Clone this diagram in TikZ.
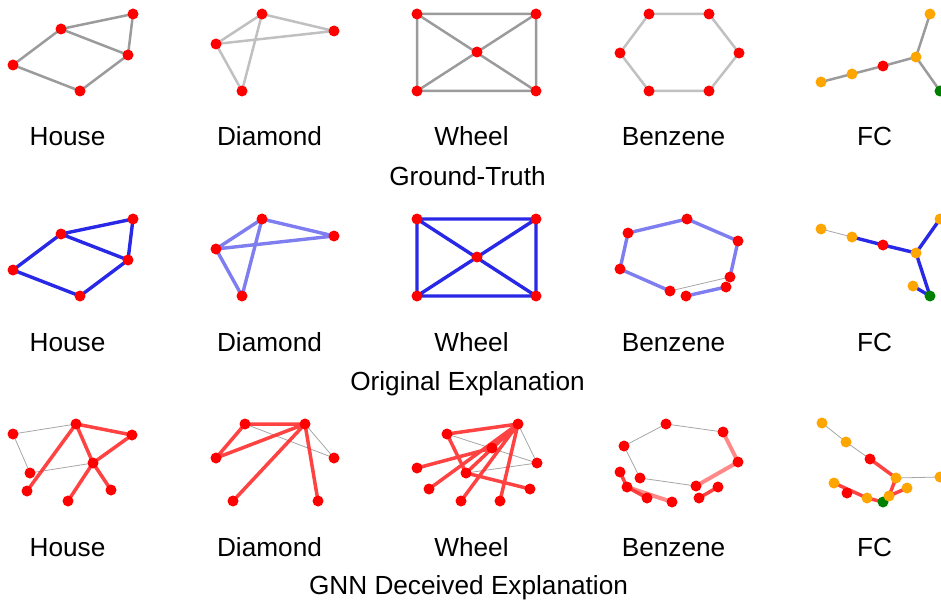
\documentclass[tikz,border=0pt]{standalone}
\usepackage{fontspec}
\setmainfont{Liberation Sans}
\usetikzlibrary{backgrounds}
\definecolor{gA}{RGB}{155,155,155}
\definecolor{gB}{RGB}{192,192,192}
\definecolor{bE}{RGB}{40,40,230}
\definecolor{rE}{RGB}{255,40,40}
\definecolor{oN}{RGB}{255,165,0}
\definecolor{gN}{RGB}{0,128,0}
\tikzset{
  rn/.style={circle,fill=red,inner sep=0pt,minimum size=11pt},
  on/.style={circle,fill=oN,inner sep=0pt,minimum size=11pt},
  gn/.style={circle,fill=gN,inner sep=0pt,minimum size=11pt},
  ge/.style={draw=gA,line width=2.5pt},
  gl/.style={draw=gB,line width=2.5pt},
  be/.style={draw=bE,line width=3.4pt},
  bl/.style={draw=bE,line width=3.4pt,draw opacity=0.6},
  re/.style={draw=rE,line width=3.5pt,draw opacity=0.88},
  rl/.style={draw=rE,line width=4pt,draw opacity=0.55},
  te/.style={draw=gray,line width=0.8pt,draw opacity=0.7},
  lab/.style={anchor=base,inner sep=0pt,font=\fontsize{26.2}{30}\selectfont}
}
\begin{document}
\begin{tikzpicture}[x=1pt,y=-1pt]
\useasboundingbox (0,0) rectangle (941,599);
% ================= Row 1: Ground truth =================
% House
\node[rn] (a1) at (133,14) {};
\node[rn] (a2) at (61,29) {};
\node[rn] (a3) at (128,55) {};
\node[rn] (a4) at (13,65) {};
\node[rn] (a5) at (80,91) {};
% Diamond
\node[rn] (b1) at (262,14) {};
\node[rn] (b2) at (334,31) {};
\node[rn] (b3) at (216,44) {};
\node[rn] (b4) at (242,91) {};
% Wheel
\node[rn] (c1) at (417,14) {};
\node[rn] (c2) at (536,14) {};
\node[rn] (c3) at (477,52) {};
\node[rn] (c4) at (417,91) {};
\node[rn] (c5) at (536,91) {};
% Benzene
\node[rn] (d1) at (649,14) {};
\node[rn] (d2) at (709,14) {};
\node[rn] (d3) at (620,53) {};
\node[rn] (d4) at (739,53) {};
\node[rn] (d5) at (649,91) {};
\node[rn] (d6) at (709,91) {};
% FC
\node[on] (e1) at (821,82) {};
\node[on] (e2) at (852,74) {};
\node[rn] (e3) at (883,66) {};
\node[on] (e4) at (916,57) {};
\node[on] (e5) at (930,14) {};
\node[gn] (e6) at (940,91) {};
\begin{pgfonlayer}{background}
\draw[ge] (a2.center)--(a1.center) (a1.center)--(a3.center) (a2.center)--(a3.center)
  (a2.center)--(a4.center) (a4.center)--(a5.center) (a5.center)--(a3.center);
\draw[gl] (b1.center)--(b2.center) (b1.center)--(b3.center) (b1.center)--(b4.center)
  (b3.center)--(b2.center) (b3.center)--(b4.center);
\draw[ge] (c1.center)--(c2.center) (c2.center)--(c5.center) (c5.center)--(c4.center)
  (c4.center)--(c1.center) (c1.center)--(c5.center) (c2.center)--(c4.center);
\draw[gl] (d1.center)--(d2.center) (d2.center)--(d4.center) (d4.center)--(d6.center)
  (d6.center)--(d5.center) (d5.center)--(d3.center) (d3.center)--(d1.center);
\draw[ge] (e1.center)--(e2.center) (e2.center)--(e3.center) (e3.center)--(e4.center)
  (e4.center)--(e5.center) (e4.center)--(e6.center);
\end{pgfonlayer}
\node[lab] (l1a) at (67.5,145) {House};
\node[lab] (l1b) at (269.5,145) {Diamond};
\node[lab] (l1c) at (471.5,145) {Wheel};
\node[lab] (l1d) at (673.5,145) {Benzene};
\node[lab] (l1e) at (874.5,145) {FC};
\node[lab] (t1) at (467.5,185) {Ground-Truth};
% ================= Row 2: Original explanation =================
\node[rn] (f1) at (133,219) {};
\node[rn] (f2) at (61,234) {};
\node[rn] (f3) at (128,260) {};
\node[rn] (f4) at (13,270) {};
\node[rn] (f5) at (80,296) {};
\node[rn] (g1) at (262,219) {};
\node[rn] (g2) at (334,236) {};
\node[rn] (g3) at (216,249) {};
\node[rn] (g4) at (242,296) {};
\node[rn] (h1) at (417,219) {};
\node[rn] (h2) at (536,219) {};
\node[rn] (h3) at (477,257) {};
\node[rn] (h4) at (417,296) {};
\node[rn] (h5) at (536,296) {};
\node[rn] (i1) at (687,219) {};
\node[rn] (i2) at (628,233) {};
\node[rn] (i3) at (738,241) {};
\node[rn] (i4) at (620,269) {};
\node[rn] (i5) at (730,277) {};
\node[rn] (i6) at (726,287) {};
\node[rn] (i7) at (670,291) {};
\node[rn] (i8) at (686,296) {};
\node[on] (j1) at (821,229) {};
\node[on] (j2) at (852,237) {};
\node[rn] (j3) at (883,245) {};
\node[on] (j4) at (916,253) {};
\node[on] (j5) at (940,219) {};
\node[on] (j6) at (913,286) {};
\node[gn] (j7) at (930,296) {};
\begin{pgfonlayer}{background}
\draw[be] (f2.center)--(f1.center) (f1.center)--(f3.center) (f2.center)--(f3.center)
  (f2.center)--(f4.center) (f4.center)--(f5.center) (f5.center)--(f3.center);
\draw[bl] (g1.center)--(g2.center) (g1.center)--(g3.center) (g1.center)--(g4.center)
  (g3.center)--(g2.center) (g3.center)--(g4.center);
\draw[be] (h1.center)--(h2.center) (h2.center)--(h5.center) (h5.center)--(h4.center)
  (h4.center)--(h1.center) (h1.center)--(h5.center) (h2.center)--(h4.center);
\draw[bl] (i2.center)--(i1.center) (i1.center)--(i3.center) (i3.center)--(i5.center)
  (i2.center)--(i4.center) (i4.center)--(i7.center) (i8.center)--(i6.center);
\draw[te] (i7.center)--(i5.center);
\draw[te] (j1.center)--(j2.center);
\draw[be] (j2.center)--(j3.center) (j3.center)--(j4.center) (j4.center)--(j5.center)
  (j4.center)--(j7.center) (j6.center)--(j7.center);
\end{pgfonlayer}
\node[lab] (l2a) at (67.5,351) {House};
\node[lab] (l2b) at (269.5,351) {Diamond};
\node[lab] (l2c) at (471.5,351) {Wheel};
\node[lab] (l2d) at (673.5,351) {Benzene};
\node[lab] (l2e) at (874.5,351) {FC};
\node[lab] (t2) at (467.5,390) {Original Explanation};
% ================= Row 3: GNN deceived explanation =================
% House
\node[rn] (k1) at (76,424) {};
\node[rn] (k2) at (13,434) {};
\node[rn] (k3) at (132,435) {};
\node[rn] (k4) at (93,463) {};
\node[rn] (k5) at (30,473) {};
\node[rn] (k6) at (27,491) {};
\node[rn] (k7) at (111,490) {};
\node[rn] (k8) at (68,501) {};
% Diamond
\node[rn] (m1) at (245,424) {};
\node[rn] (m2) at (305,424) {};
\node[rn] (m3) at (216,458) {};
\node[rn] (m4) at (334,458) {};
\node[rn] (m5) at (233,501) {};
\node[rn] (m6) at (318,501) {};
% Wheel
\node[rn] (n0) at (518,424) {};
\node[rn] (n1) at (447,434) {};
\node[rn] (n2) at (492,448) {};
\node[rn] (n3) at (537,463) {};
\node[rn] (n4) at (417,468) {};
\node[rn] (n5) at (466,473) {};
\node[rn] (n6) at (429,489) {};
\node[rn] (n7) at (530,489) {};
\node[rn] (n8) at (461,501) {};
\node[rn] (n9) at (500,501) {};
% Benzene
\node[rn] (p1) at (666,424) {};
\node[rn] (p2) at (723,432) {};
\node[rn] (p3) at (624,446) {};
\node[rn] (p4) at (738,462) {};
\node[rn] (p5) at (620,472) {};
\node[rn] (p6) at (640,478) {};
\node[rn] (p7) at (696,486) {};
\node[rn] (p8) at (718,487) {};
\node[rn] (p9) at (627,487) {};
\node[rn] (p10) at (647,498) {};
\node[rn] (p11) at (672,502) {};
\node[rn] (p12) at (699,498) {};
% FC
\node[on] (q1) at (822,423) {};
\node[on] (q2) at (846,442) {};
\node[rn] (q3) at (870,459) {};
\node[on] (q4) at (896,478) {};
\node[on] (q5) at (940,477) {};
\node[on] (q6) at (834,483) {};
\node[rn] (q7) at (847,493) {};
\node[on] (q8) at (867,498) {};
\node[gn] (q9) at (883,502) {};
\node[on] (q10) at (889,496) {};
\node[on] (q11) at (907,488) {};
\begin{pgfonlayer}{background}
\draw[te] (k2.center)--(k1.center) (k2.center)--(k5.center) (k5.center)--(k4.center);
\draw[re] (k1.center)--(k3.center) (k1.center)--(k4.center) (k3.center)--(k4.center)
  (k1.center)--(k6.center) (k4.center)--(k8.center) (k4.center)--(k7.center);
\draw[te] (m1.center)--(m4.center) (m2.center)--(m4.center);
\draw[re] (m1.center)--(m2.center) (m1.center)--(m3.center) (m3.center)--(m2.center)
  (m2.center)--(m5.center) (m2.center)--(m6.center);
\draw[te] (n1.center)--(n3.center) (n0.center)--(n3.center) (n5.center)--(n3.center);
\draw[re] (n1.center)--(n0.center) (n1.center)--(n5.center) (n5.center)--(n7.center)
  (n4.center)--(n2.center) (n0.center)--(n2.center) (n0.center)--(n5.center)
  (n0.center)--(n6.center) (n0.center)--(n8.center) (n0.center)--(n9.center);
\draw[te] (p3.center)--(p1.center) (p1.center)--(p2.center) (p3.center)--(p6.center)
  (p6.center)--(p7.center);
\draw[rl] (p2.center)--(p4.center) (p4.center)--(p7.center) (p9.center)--(p11.center);
\draw[re] (p5.center)--(p9.center) (p9.center)--(p10.center) (p12.center)--(p8.center);
\draw[te] (q1.center)--(q2.center) (q2.center)--(q3.center) (q4.center)--(q5.center);
\draw[re] (q3.center)--(q4.center) (q4.center)--(q10.center) (q6.center)--(q8.center)
  (q8.center)--(q9.center) (q9.center)--(q10.center) (q10.center)--(q11.center);
\end{pgfonlayer}
\node[lab] (l3a) at (67.5,556) {House};
\node[lab] (l3b) at (269.5,556) {Diamond};
\node[lab] (l3c) at (471.5,556) {Wheel};
\node[lab] (l3d) at (673.5,556) {Benzene};
\node[lab] (l3e) at (874.5,556) {FC};
\node[lab] (t3) at (468.5,594) {GNN Deceived Explanation};
\end{tikzpicture}
\end{document}
